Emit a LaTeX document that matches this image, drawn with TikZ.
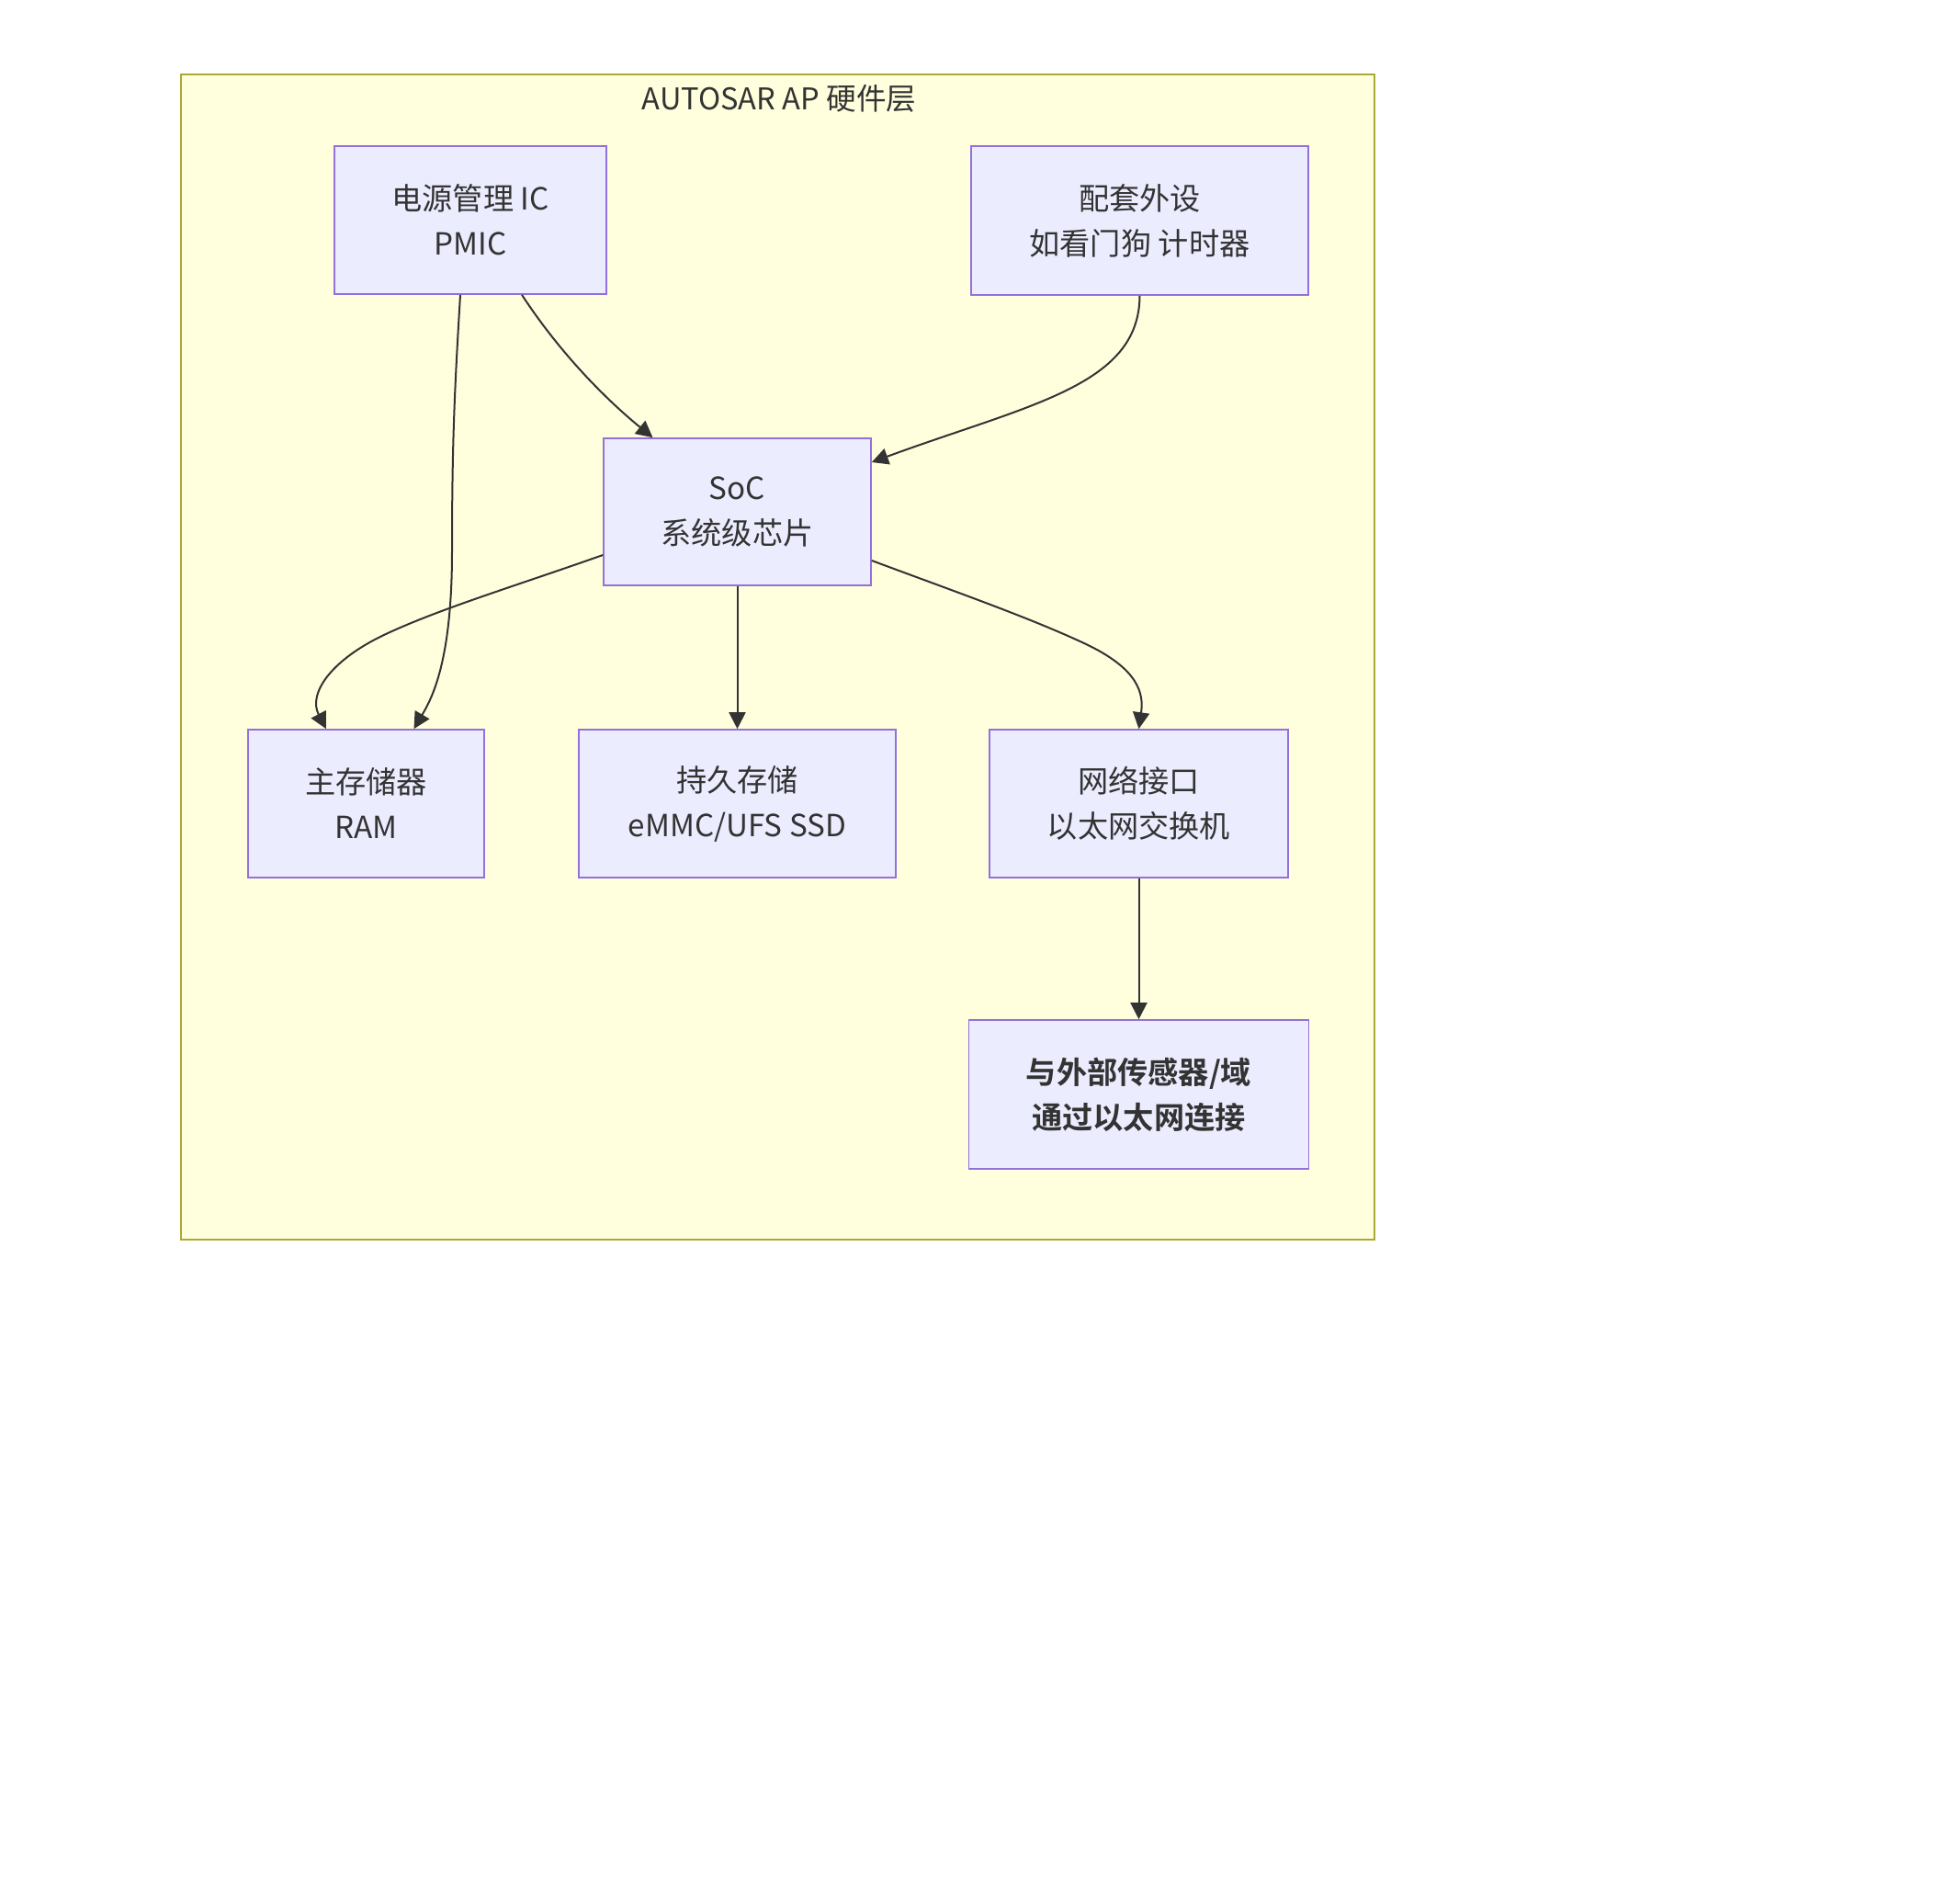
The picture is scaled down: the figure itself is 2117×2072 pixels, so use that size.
\documentclass[tikz,border=0pt]{standalone}
\usepackage{fontspec}
\setmainfont{Noto Sans CJK SC}[BoldFont={Noto Sans CJK SC Bold}]
\usetikzlibrary{arrows.meta}
\definecolor{clfill}{HTML}{FFFFDE}
\definecolor{clline}{HTML}{AAAA33}
\definecolor{ndfill}{HTML}{ECECFF}
\definecolor{ndline}{HTML}{9370DB}
\definecolor{txt}{HTML}{333333}
\tikzset{
  box/.style={draw=ndline, fill=ndfill, line width=0.8pt, align=center, text=txt,
    inner sep=0pt, font=\fontsize{16.6}{24.5}\selectfont},
  conn/.style={draw=txt, line width=1pt, -{Triangle[length=9pt,width=9pt]}},
}
\begin{document}
\begin{tikzpicture}[x=0.5pt,y=-0.5pt]
\useasboundingbox (0,0) rectangle (2117,2072);
\fill[white] (0,0) rectangle (2117,2072);
\draw[draw=clline, fill=clfill, line width=1pt] (197,81) rectangle (1496,1349);
\node[text=txt, font=\fontsize{16.3}{20}\selectfont] (title) at (848,107) {AUTOSAR AP 硬件层};

\node[box, minimum width=148pt, minimum height=80.5pt] (pmic) at (512,239.5) {电源管理 IC\\PMIC};
\node[box, minimum width=183.5pt, minimum height=81pt] (peri) at (1240.5,240) {配套外设\\如看门狗 计时器};
\node[box, minimum width=145.5pt, minimum height=80pt] (soc) at (802.5,557) {SoC\\系统级芯片};
\node[box, minimum width=128.5pt, minimum height=80.5pt] (ram) at (398.5,874.5) {主存储器\\RAM};
\node[box, minimum width=172.5pt, minimum height=80.5pt] (stor) at (802.5,874.5) {持久存储\\eMMC/UFS SSD};
\node[box, minimum width=162.5pt, minimum height=80.5pt] (net) at (1239.5,874.5) {网络接口\\以太网交换机};
\node[box, minimum width=185pt, minimum height=81pt] (ext) at (1239.5,1191) {\bfseries 与外部传感器/域\\\bfseries 通过以太网连接};

\draw[conn] ([xshift=-5.5pt]pmic.south) .. controls (495,420) and (492,480) .. (492,600)
  .. controls (492,720) and (470,760) .. ([xshift=26pt]ram.north);
\draw[conn] ([xshift=28pt]pmic.south) .. controls (610,385) and (660,435) .. ([xshift=-46pt]soc.north);
\draw[conn] (peri.south) .. controls (1240,420) and (1120,440) .. ([yshift=27pt]soc.east);
\draw[conn] ([yshift=-23.5pt]soc.west) .. controls (560,638) and (480,662) .. (420,690)
  .. controls (360,718) and (335,755) .. ([xshift=-21.75pt]ram.north);
\draw[conn] (soc.south) -- (stor.north);
\draw[conn] ([yshift=-26.5pt]soc.east) .. controls (1040,644) and (1120,672) .. (1180,700)
  .. controls (1240,728) and (1245,755) .. (net.north);
\draw[conn] (net.south) -- (ext.north);
\end{tikzpicture}
\end{document}
